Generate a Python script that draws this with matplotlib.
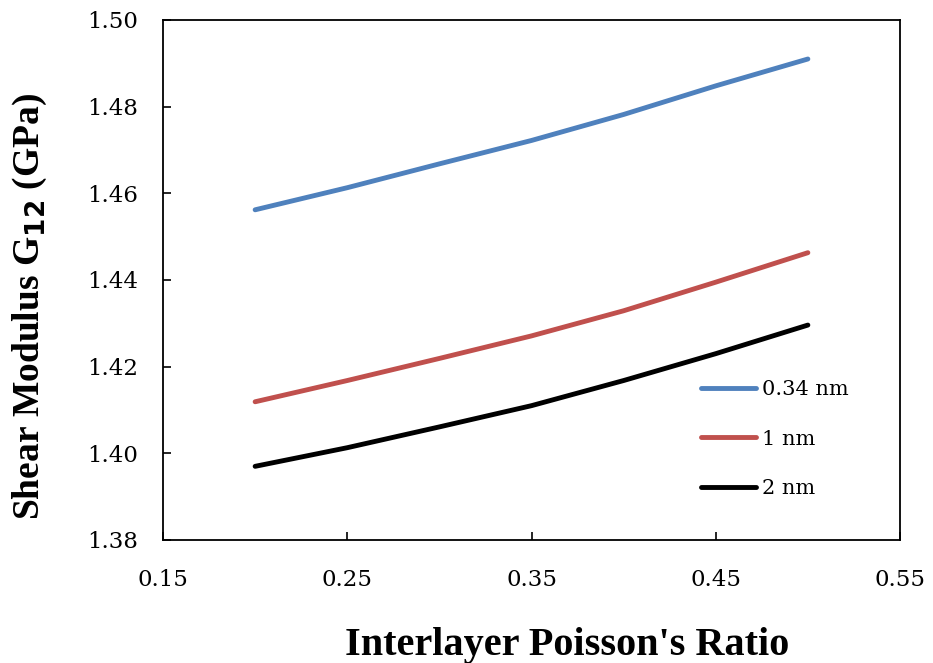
import matplotlib.pyplot as plt
import numpy as np

poisson = [0.20, 0.25, 0.30, 0.35, 0.40, 0.45, 0.50]
g12_034nm = [1.4562, 1.4613, 1.4668, 1.4722, 1.4782, 1.4848, 1.4910]
g12_1nm = [1.4119, 1.4168, 1.4219, 1.4271, 1.4329, 1.4395, 1.4463]
g12_2nm = [1.3970, 1.4013, 1.4061, 1.4110, 1.4168, 1.4230, 1.4296]

series = [
    ("0.34 nm", g12_034nm, "#4F81BD"),
    ("1 nm", g12_1nm, "#C0504D"),
    ("2 nm", g12_2nm, "black"),
]

plt.rcParams["font.family"] = ["DejaVu Serif"]

fig = plt.figure(figsize=(9.33, 6.63), dpi=100)
ax = fig.add_axes([163 / 933, 1 - 540 / 663, (900 - 163) / 933, (540 - 20) / 663])

for label, values, color in series:
    ax.plot(poisson, values, color=color, linewidth=3.5, label=label,
            solid_capstyle="round")

ax.set_xlim(0.15, 0.55)
ax.set_ylim(1.38, 1.50)
xticks = np.arange(0.15, 0.56, 0.10)
yticks = np.arange(1.38, 1.501, 0.02)
ax.set_xticks(xticks)
ax.set_yticks(yticks)
ax.set_xticklabels([f"{v:.2f}" for v in xticks])
ax.set_yticklabels([f"{v:.2f}" for v in yticks])

for axis in ["top", "bottom", "left", "right"]:
    ax.spines[axis].set_linewidth(1.3)
ax.tick_params(axis="both", direction="in", length=6, width=1.2, labelsize=16.5)
ax.tick_params(axis="x", pad=21)
ax.tick_params(axis="y", pad=18)

ax.set_xlabel("Interlayer Poisson's Ratio", family="Liberation Serif", size=29,
              weight="bold", va="center")
ax.set_ylabel(r"Shear Modulus G$_{\mathbf{12}}$ (GPa)", family="Liberation Serif", size=27,
              weight="bold", va="center")
ax.xaxis.set_label_coords(0.548, -0.202)
ax.yaxis.set_label_coords(-0.18, 0.448)

ax.legend(loc="center left", bbox_to_anchor=(0.705, 0.194), frameon=False, fontsize=15,
          handlelength=2.6, labelspacing=1.45, handletextpad=0.3)

fig.savefig("out.png", dpi=100)
